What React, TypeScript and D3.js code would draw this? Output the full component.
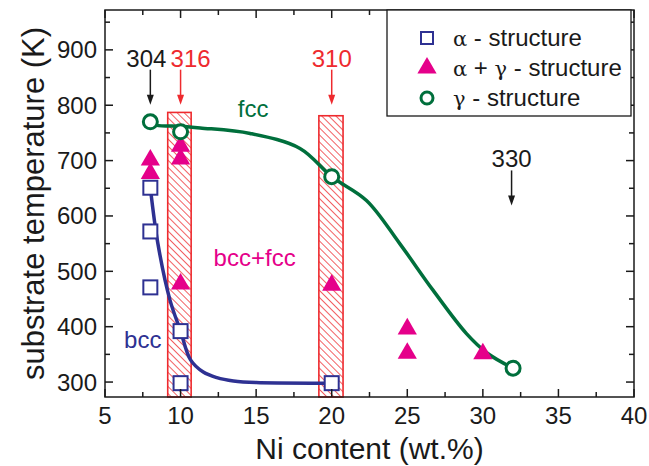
import React, { useRef, useEffect } from 'react';
import * as d3 from 'd3';

// measured points (Ni wt.%, substrate temperature K)
const alphaNi = [8, 8, 8, 10, 10, 20];
const alphaT = [651, 572, 471, 392, 298, 298];
const mixNi = [8, 8, 10, 10, 10, 20, 25, 25, 30];
const mixT = [701, 677, 726, 703, 477, 475, 396, 352, 351];
const gammaNi = [8, 10, 20, 32];
const gammaT = [770, 752, 671, 325];

// phase boundaries drawn by hand in the original
const bccNi = [8, 8.5, 9.3, 10, 10.66, 11.5, 12.4, 13.5, 15, 20];
const bccT = [651, 550, 448, 392, 340, 318, 308, 302, 299, 298];
const fccNi = [8, 8.4, 10, 11.3, 14.6, 17.9, 20, 22.3, 24.5, 26.7, 28.9, 30.3, 32];
const fccT = [770, 764, 762, 759, 749, 722, 671, 628, 550, 466, 388, 352, 325];

// steel grades
const steelNames = ['304', '316', '310', '330'];
const steelNi = [8, 10, 20, 31.9];
const steelTip = [801, 801, 801, 619];
const steelRed = [false, true, true, false];

// hatched sputter target bands
const bandFrom = [9.15, 19.15];
const bandTo = [10.7, 20.75];
const bandTop = [787, 781];

const xTicks = [5, 10, 15, 20, 25, 30, 35, 40];
const yTicks = [300, 400, 500, 600, 700, 800, 900];

const navy = '#2e3192';
const magenta = '#e5008a';
const green = '#006f3c';
const red = '#ee2a2e';
const font = '"Liberation Sans", Arial, sans-serif';

const Chart = () => {
    const ref = useRef<SVGSVGElement>(null);

    useEffect(() => {
        const width = 649;
        const height = 466;
        const left = 105, right = 634, top = 10, bottom = 397;

        const svg = d3.select(ref.current);
        svg.selectAll('*').remove();
        svg.attr('width', width).attr('height', height);

        const x = d3.scaleLinear().domain([5, 40]).range([left, right]);
        const y = d3.scaleLinear().domain([273, 972]).range([bottom, top]);

        const defs = svg.append('defs');
        const pat = defs.append('pattern')
            .attr('id', 'hatch')
            .attr('patternUnits', 'userSpaceOnUse')
            .attr('width', 5).attr('height', 5)
            .attr('patternTransform', 'rotate(-45)');
        pat.append('line')
            .attr('x1', 0).attr('y1', 0).attr('x2', 0).attr('y2', 5)
            .attr('stroke', red).attr('stroke-width', 1.5);

        // hatched bands
        svg.append('g').selectAll('rect')
            .data(bandFrom.map((d, i) => ({ a: d, b: bandTo[i], t: bandTop[i] })))
            .join('rect')
            .attr('x', d => x(d.a))
            .attr('y', d => y(d.t))
            .attr('width', d => x(d.b) - x(d.a))
            .attr('height', d => bottom - y(d.t))
            .attr('fill', 'url(#hatch)')
            .attr('stroke', red)
            .attr('stroke-width', 1.6);

        // boundaries
        const line = d3.line<[number, number]>()
            .x(d => x(d[0])).y(d => y(d[1]))
            .curve(d3.curveCatmullRom.alpha(0.5));
        svg.append('path')
            .attr('d', line(bccNi.map((d, i) => [d, bccT[i]])))
            .attr('fill', 'none').attr('stroke', navy).attr('stroke-width', 3.5);
        svg.append('path')
            .attr('d', line(fccNi.map((d, i) => [d, fccT[i]])))
            .attr('fill', 'none').attr('stroke', green).attr('stroke-width', 3.5);

        // markers
        const tri = d3.symbol(d3.symbolTriangle, 160);
        svg.append('g').selectAll('path')
            .data(mixNi.map((d, i) => [d, mixT[i]]))
            .join('path')
            .attr('d', tri)
            .attr('transform', d => `translate(${x(d[0])},${y(d[1])})`)
            .attr('fill', magenta);

        svg.append('g').selectAll('rect')
            .data(alphaNi.map((d, i) => [d, alphaT[i]]))
            .join('rect')
            .attr('x', d => x(d[0]) - 7).attr('y', d => y(d[1]) - 7)
            .attr('width', 14).attr('height', 14)
            .attr('fill', 'white').attr('stroke', navy).attr('stroke-width', 2);

        svg.append('g').selectAll('circle')
            .data(gammaNi.map((d, i) => [d, gammaT[i]]))
            .join('circle')
            .attr('cx', d => x(d[0])).attr('cy', d => y(d[1]))
            .attr('r', 7)
            .attr('fill', 'white').attr('stroke', green).attr('stroke-width', 3);

        // steel grade arrows
        const steel = svg.append('g').selectAll('g')
            .data(steelNames.map((n, i) => ({ n, ni: steelNi[i], t: steelTip[i], c: steelRed[i] ? red : '#1a1a1a' })))
            .join('g');
        steel.append('line')
            .attr('x1', d => x(d.ni)).attr('x2', d => x(d.ni))
            .attr('y1', d => y(d.t) - 35).attr('y2', d => y(d.t) - 4)
            .attr('stroke', d => d.c).attr('stroke-width', 1.5);
        steel.append('path')
            .attr('d', d => `M${x(d.ni) - 3.5},${y(d.t) - 10} L${x(d.ni) + 3.5},${y(d.t) - 10} L${x(d.ni)},${y(d.t)} Z`)
            .attr('fill', d => d.c);
        steel.append('text')
            .attr('x', d => x(d.ni) + (d.n === '304' ? -4 : d.n === '316' ? 10 : 0))
            .attr('y', d => y(d.t) - 38)
            .attr('text-anchor', 'middle')
            .attr('font-family', font).attr('font-size', 24)
            .attr('fill', d => d.c)
            .text(d => d.n);

        // region labels
        const regions = [
            { s: 'fcc', c: green, px: x(14.8), py: y(747) - 18 },
            { s: 'bcc+fcc', c: magenta, px: x(14.9), py: y(510) },
            { s: 'bcc', c: navy, px: x(7.5), py: y(361) },
        ];
        svg.append('g').selectAll('text')
            .data(regions)
            .join('text')
            .attr('x', d => d.px).attr('y', d => d.py)
            .attr('text-anchor', 'middle')
            .attr('font-family', font).attr('font-size', 24)
            .attr('fill', d => d.c)
            .text(d => d.s);

        // axes with inward ticks on all sides
        const axisG = svg.append('g').attr('stroke', '#1a1a1a').attr('stroke-width', 1.5);
        const xMinor = d3.range(5, 40.01, 2.5);
        const yMinor = d3.range(300, 951, 50);
        axisG.selectAll('.xt').data(xMinor).join('line')
            .attr('x1', d => x(d)).attr('x2', d => x(d))
            .attr('y1', bottom).attr('y2', d => bottom - (d % 5 === 0 ? 8 : 5));
        axisG.selectAll('.xtt').data(xMinor).join('line')
            .attr('x1', d => x(d)).attr('x2', d => x(d))
            .attr('y1', top).attr('y2', d => top + (d % 5 === 0 ? 8 : 5));
        axisG.selectAll('.yt').data(yMinor).join('line')
            .attr('y1', d => y(d)).attr('y2', d => y(d))
            .attr('x1', left).attr('x2', d => left + (d % 100 === 0 ? 8 : 5));
        axisG.selectAll('.ytr').data(yMinor).join('line')
            .attr('y1', d => y(d)).attr('y2', d => y(d))
            .attr('x1', right).attr('x2', d => right - (d % 100 === 0 ? 8 : 5));
        axisG.append('rect')
            .attr('x', left).attr('y', top)
            .attr('width', right - left).attr('height', bottom - top)
            .attr('fill', 'none');

        svg.append('g').selectAll('text').data(xTicks).join('text')
            .attr('x', d => x(d)).attr('y', 424)
            .attr('text-anchor', 'middle')
            .attr('font-family', font).attr('font-size', 24).attr('fill', '#1a1a1a')
            .text(d => d);
        svg.append('g').selectAll('text').data(yTicks).join('text')
            .attr('x', 97).attr('y', d => y(d) + 8.5)
            .attr('text-anchor', 'end')
            .attr('font-family', font).attr('font-size', 24).attr('fill', '#1a1a1a')
            .text(d => d);

        svg.append('text')
            .attr('x', (left + right) / 2).attr('y', 459)
            .attr('text-anchor', 'middle')
            .attr('font-family', font).attr('font-size', 30).attr('fill', '#1a1a1a')
            .text('Ni content (wt.%)');
        svg.append('text')
            .attr('transform', `translate(44,${(top + bottom) / 2}) rotate(-90)`)
            .attr('text-anchor', 'middle')
            .attr('font-family', font).attr('font-size', 31).attr('fill', '#1a1a1a')
            .text('substrate temperature (K)');

        // legend
        const lg = svg.append('g');
        lg.append('rect')
            .attr('x', 387).attr('y', top).attr('width', 244).attr('height', 106)
            .attr('fill', 'white').attr('stroke', '#1a1a1a').attr('stroke-width', 1.3);
        const items = [
            { k: 'sq', a: 'α', b: ' - structure' },
            { k: 'tri', a: 'α', b: ' + ', c: 'γ', d: ' - structure' },
            { k: 'ci', a: 'γ', b: ' - structure' },
        ];
        items.forEach((it, i) => {
            const cy = 38 + i * 30;
            if (it.k === 'sq') {
                lg.append('rect').attr('x', 421).attr('y', cy - 6).attr('width', 12).attr('height', 12)
                    .attr('fill', 'white').attr('stroke', navy).attr('stroke-width', 2);
            } else if (it.k === 'tri') {
                lg.append('path').attr('d', tri).attr('transform', `translate(427,${cy})`).attr('fill', magenta);
            } else {
                lg.append('circle').attr('cx', 427).attr('cy', cy).attr('r', 6)
                    .attr('fill', 'white').attr('stroke', green).attr('stroke-width', 3);
            }
            const t = lg.append('text')
                .attr('x', 453).attr('y', cy + 8)
                .attr('font-family', font).attr('font-size', 24).attr('fill', '#1a1a1a');
            t.append('tspan').attr('font-family', '"DejaVu Serif", serif').attr('font-size', 21).text(it.a);
            t.append('tspan').text(it.b);
            if (it.c) {
                t.append('tspan').attr('font-family', '"DejaVu Serif", serif').attr('font-size', 21).text(it.c);
                t.append('tspan').text(it.d);
            }
        });
    }, []);

    return <svg ref={ref} style={{ position: 'absolute', left: 0, top: 0 }}></svg>;
};

export default function App() {
    return <Chart />;
}
